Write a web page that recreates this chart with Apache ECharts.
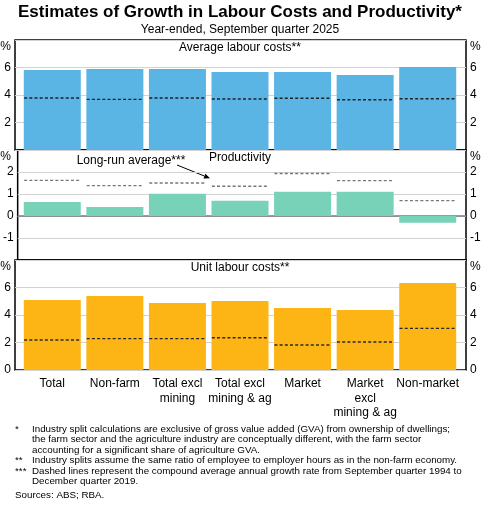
<!DOCTYPE html>
<html><head><meta charset="utf-8">
<script src="https://cdn.jsdelivr.net/npm/echarts@6/dist/echarts.min.js"></script>
<style>html,body{margin:0;padding:0;background:#fff}#c{width:491px;height:505px}</style>
</head><body><div id="c"></div>
<script>
var categories = ['Total', 'Non-farm', 'Total excl\nmining', 'Total excl\nmining & ag', 'Market', 'Market\nexcl\nmining & ag', 'Non-market'];
var avgLabourCosts = [5.82, 5.89, 5.89, 5.67, 5.67, 5.45, 6.04];
var avgLabourCostsLR = [3.78, 3.68, 3.78, 3.71, 3.76, 3.66, 3.73];
var productivity = [0.64, 0.41, 1.01, 0.69, 1.10, 1.10, -0.31];
var productivityLR = [1.62, 1.38, 1.50, 1.35, 1.93, 1.61, 0.70];
var unitLabourCosts = [5.09, 5.38, 4.87, 5.02, 4.51, 4.36, 6.33];
var unitLabourCostsLR = [2.18, 2.28, 2.28, 2.35, 1.82, 2.04, 3.03];
var panelTitles = ['Average labour costs**', 'Productivity', 'Unit labour costs**'];
var footnotes = [
  ['*', 'Industry split calculations are exclusive of gross value added (GVA) from ownership of dwellings;'],
  ['', 'the farm sector and the agriculture industry are conceptually different, with the farm sector'],
  ['', 'accounting for a significant share of agriculture GVA.'],
  ['**', 'Industry splits assume the same ratio of employee to employer hours as in the non-farm economy.'],
  ['***', 'Dashed lines represent the compound average annual growth rate from September quarter 1994 to'],
  ['', 'December quarter 2019.']
];

var FONT = 'Arial, "Liberation Sans", sans-serif';
var chart = echarts.init(document.getElementById('c'), null, {renderer: 'canvas'});

var panels = [
  {top: 40, h: 110, min: 0, max: 8, interval: 2, showMin: false, color: '#5AB4E4', bars: avgLabourCosts, lr: avgLabourCostsLR, dash: '#222', zero: false},
  {top: 150, h: 110, min: -2, max: 3, interval: 1, showMin: false, color: '#78D2B8', bars: productivity, lr: productivityLR, dash: '#777', zero: true},
  {top: 260, h: 110, min: 0, max: 8, interval: 2, showMin: true, color: '#FDB515', bars: unitLabourCosts, lr: unitLabourCostsLR, dash: '#2a2a2a', zero: false}
];

var FL = 15, FR = 466, DL = 21, DR = 459;
var grids = [], xAxes = [], yAxes = [], series = [];
panels.forEach(function (p, k) {
  grids.push({left: FL, width: FR - FL, top: p.top, height: p.h, show: true, borderColor: '#000', borderWidth: 1.5, backgroundColor: 'transparent'});
  var fg = grids.length - 1;
  xAxes.push({type: 'value', gridIndex: fg, min: 0, max: 1, show: false});
  var fxa = xAxes.length - 1;
  ['left', 'right'].forEach(function (pos) {
    yAxes.push({type: 'value', gridIndex: fg, position: pos, min: p.min, max: p.max, interval: p.interval,
      axisLine: {show: false, onZero: false}, axisTick: {show: false},
      axisLabel: {show: true, margin: 4, color: '#000', fontSize: 12, fontFamily: FONT, showMinLabel: p.showMin, showMaxLabel: false,
        align: pos === 'left' ? 'right' : 'left'},
      splitLine: {show: pos === 'left', lineStyle: {color: '#d2d2d2', width: 1}}});
  });
  var fya = yAxes.length - 2;
  if (p.zero) {
    series.push({type: 'custom', xAxisIndex: fxa, yAxisIndex: fya, z: 1, silent: true, animation: false,
      data: [[0, 0]],
      renderItem: function (params, api) {
        var a = api.coord([0, 0]), b = api.coord([1, 0]);
        return {type: 'line', shape: {x1: a[0], y1: a[1], x2: b[0], y2: b[1]}, style: {stroke: '#7a7a7a', lineWidth: 1.5}};
      }});
  }
  grids.push({left: DL, width: DR - DL, top: p.top, height: p.h, show: false});
  var dg = grids.length - 1;
  xAxes.push({type: 'category', gridIndex: dg, data: categories, boundaryGap: true,
    axisLine: {show: false}, axisTick: {show: false},
    axisLabel: {show: k === 2, interval: 0, margin: 7, color: '#000', fontSize: 12, fontFamily: FONT, lineHeight: 14.3, verticalAlign: 'top'},
    splitLine: {show: false}});
  var dxa = xAxes.length - 1;
  yAxes.push({type: 'value', gridIndex: dg, min: p.min, max: p.max, interval: p.interval, show: false, splitLine: {show: false}});
  var dya = yAxes.length - 1;
  series.push({type: 'bar', xAxisIndex: dxa, yAxisIndex: dya, data: p.bars, barWidth: 57,
    itemStyle: {color: p.color}, z: 2, silent: true, animation: false});
  series.push({type: 'custom', xAxisIndex: dxa, yAxisIndex: dya, z: 5, silent: true, animation: false,
    data: p.lr.map(function (v, i) { return [i, v]; }),
    renderItem: (function (col) {
      return function (params, api) {
        var c = api.coord([api.value(0), api.value(1)]);
        var w = api.size([1, 0])[0] * 0.9;
        return {type: 'line', shape: {x1: c[0] - w / 2, y1: c[1], x2: c[0] + w / 2, y2: c[1]},
          style: {stroke: col, lineWidth: 1.4, lineDash: [3, 2.2]}};
      };
    })(p.dash)});
});

var graphics = [];
graphics.push({type: 'text', position: [240, 4], style: {text: 'Estimates of Growth in Labour Costs and Productivity*', font: 'bold 17px ' + FONT, fill: '#000', textAlign: 'center'}});
graphics.push({type: 'text', position: [240, 24], style: {text: 'Year-ended, September quarter 2025', font: '12px ' + FONT, fill: '#000', textAlign: 'center'}});
panels.forEach(function (p, k) {
  graphics.push({type: 'text', position: [240, p.top + 2], style: {text: panelTitles[k], font: '12px ' + FONT, fill: '#000', textAlign: 'center'}});
  graphics.push({type: 'text', position: [11, p.top + 1], style: {text: '%', font: '12px ' + FONT, fill: '#000', textAlign: 'right'}});
  graphics.push({type: 'text', position: [470, p.top + 1], style: {text: '%', font: '12px ' + FONT, fill: '#000', textAlign: 'left'}});
});
graphics.push({type: 'text', position: [131, 155], style: {text: 'Long-run average***', font: '12px ' + FONT, fill: '#000', textAlign: 'center'}});
(function () {
  var x1 = 177, y1 = 165, x2 = 210, y2 = 178.3;
  var dx = x2 - x1, dy = y2 - y1, L = Math.sqrt(dx * dx + dy * dy), ux = dx / L, uy = dy / L;
  var hl = 6, hw = 2.5;
  var bx = x2 - ux * hl, by = y2 - uy * hl;
  graphics.push({type: 'line', shape: {x1: x1, y1: y1, x2: bx, y2: by}, style: {stroke: '#000', lineWidth: 1}});
  graphics.push({type: 'polygon', shape: {points: [[x2, y2], [bx - uy * hw, by + ux * hw], [bx + uy * hw, by - ux * hw]]}, style: {fill: '#000'}});
})();
var fy = 424, fstep = 10.5, FFS = '9.8px ';
footnotes.forEach(function (f, i) {
  var y = fy + i * fstep;
  if (f[0]) graphics.push({type: 'text', position: [15, y], style: {text: f[0], font: FFS + FONT, fill: '#000'}});
  graphics.push({type: 'text', position: [32, y], style: {text: f[1], font: FFS + FONT, fill: '#000'}});
});
graphics.push({type: 'text', position: [15, 490], style: {text: 'Sources: ABS; RBA.', font: FFS + FONT, fill: '#000'}});

chart.setOption({
  animation: false,
  textStyle: {fontFamily: FONT},
  grid: grids, xAxis: xAxes, yAxis: yAxes, series: series,
  graphic: graphics
});
</script></body></html>
